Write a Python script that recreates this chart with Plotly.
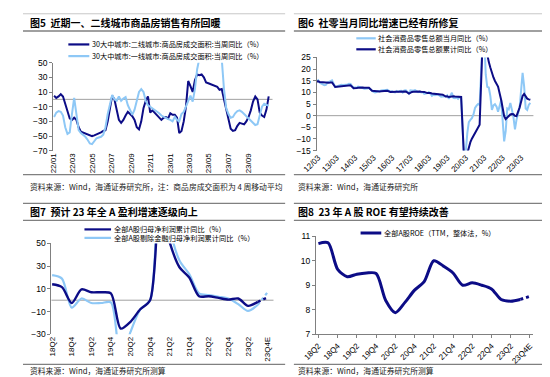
import plotly.graph_objects as go
import pandas as pd

W, H = 550, 377
def px(x): return x / W
def py(y): return 1 - y / H

NAVY = "#0c0c86"
LIGHT = "#8ec8f6"
GRAY = "#808080"
CJK = "Noto Sans CJK SC"
LAT = "Liberation Sans, Arial, Noto Sans CJK SC"

# ---------------- Panel 5 data (weekly) ----------------
weeks5 = pd.date_range("2022-01-02", periods=97, freq="7D")
tier2_yoy = [5, 2, 4, 7, 4, -6, -17, -26, -28, -25, -28, -38, -44, -45, -46, -48, -49, -50, -49, -48,
             -47, -45, -43, -42, -30, -10, 5, 0, -15, -28, -32, -28, -22, -17, -20, -23, -28, -38, -41, -30,
             -12, -2, 4, -18, -15, -18, -21, -25, -28, -25, -24, -26, -19, -21, -21, -25, -46, -43, -30, -10,
             25, 18, 10, 26, 34, 33, 34, 30, 23, 22, 21, 19, 18, 17, 13, 14, 0, -15, -30, -40,
             -43, -42, -36, -32, -33, -34, -30, -24, -15, -3, 4, 0, -18, -22, -24, -14, 4]
tier1_yoy = [-24, -18, -16, -17, -22, -38, -47, -45, -20, 2, -20, -42, -46, -48, -51, -55, -60, -61, -57, -53,
             -52, -51, -48, -38, -20, -8, 6, 0, -2, 4, -2, 1, 3, -8, -15, -21, -14, -2, 10, 14,
             10, -2, -8, -10, -12, -14, -17, -19, -22, -24, -26, -27, -28, -30, -24, -28, -30, -20, -17, -10,
             -3, 5, -3, 14, 41, 62, 80, 95, 100, 105, 100, 95, 90, 80, 70, 55, 14, -12, -20, -25,
             -24, -19, -16, -15, -17, -20, -24, -27, -30, -33, -35, -34, -20, -10, -6, -8, -9]
ticks5 = ["2022-01-01", "2022-03-01", "2022-05-01", "2022-07-01", "2022-09-01", "2022-11-01",
          "2023-01-01", "2023-03-01", "2023-05-01", "2023-07-01", "2023-09-01"]
ticktext5 = ["22/01", "22/03", "22/05", "22/07", "22/09", "22/11",
             "23/01", "23/03", "23/05", "23/07", "23/09"]

# ---------------- Panel 6 data (monthly, Jan merged into Feb) ----------------
retail_month = [
    14.7, 15.2, 14.1, 13.8, 13.7, 13.1, 13.2, 14.2, 14.5, 14.9, 15.2,
    12.3, 12.6, 12.8, 12.9, 13.3, 13.2, 13.4, 13.3, 13.3, 13.7, 13.6,
    11.8, 12.2, 11.9, 12.5, 12.4, 12.2, 11.9, 11.6, 11.5, 11.7, 11.9,
    10.7, 10.2, 10.0, 10.1, 10.6, 10.5, 10.8, 10.9, 11.0, 11.2, 11.1,
    10.2, 10.5, 10.1, 10.0, 10.6, 10.2, 10.6, 10.7, 10.0, 10.8, 10.9,
    9.5, 10.9, 10.7, 10.7, 11.0, 10.4, 10.1, 10.3, 10.0, 10.2, 9.4,
    9.7, 10.1, 9.4, 8.5, 9.0, 8.8, 9.0, 9.2, 8.6, 8.1, 8.2,
    8.2, 8.7, 7.2, 8.6, 9.8, 7.6, 7.5, 7.8, 7.2, 8.0, 8.0,
    -20.5, -15.8, -7.5, -2.8, -1.8, -1.1, 0.5, 3.3, 4.3, 5.0, 4.6,
    33.8, 34.2, 17.7, 12.4, 12.1, 8.5, 2.5, 4.4, 4.9, 3.9, 1.7,
    6.7, -3.5, -11.1, -6.7, 3.1, 2.7, 5.4, 2.5, -0.5, -5.9, -1.8,
    3.5, 10.6, 18.4, 12.7, 3.1, 2.5, 4.6, 5.5]
retail_cum = [
    14.7, 14.8, 14.5, 14.4, 14.4, 14.3, 14.1, 14.1, 14.1, 14.3, 14.3,
    12.3, 12.4, 12.5, 12.6, 12.7, 12.7, 12.8, 12.9, 12.9, 13.0, 13.1,
    11.8, 12.0, 11.9, 12.0, 12.1, 12.1, 12.1, 12.0, 12.0, 12.0, 12.0,
    10.7, 10.6, 10.4, 10.4, 10.4, 10.4, 10.5, 10.5, 10.6, 10.6, 10.7,
    10.2, 10.3, 10.3, 10.2, 10.3, 10.3, 10.3, 10.4, 10.3, 10.4, 10.4,
    9.5, 10.0, 10.2, 10.3, 10.4, 10.4, 10.4, 10.4, 10.3, 10.3, 10.2,
    9.7, 9.8, 9.7, 9.5, 9.4, 9.3, 9.3, 9.3, 9.2, 9.1, 9.0,
    8.2, 8.3, 8.0, 8.1, 8.4, 8.3, 8.2, 8.2, 8.1, 8.0, 8.0,
    -20.5, -19.0, -16.2, -13.5, -11.4, -9.9, -8.6, -7.2, -5.9, -4.8, -3.9,
    33.8, 33.9, 29.6, 25.7, 23.0, 20.7, 18.1, 16.4, 14.9, 13.7, 12.5,
    6.7, 3.3, -0.2, -1.5, -0.7, -0.2, 0.5, 0.7, 0.6, -0.1, -0.2,
    3.5, 5.8, 8.5, 9.3, 8.2, 7.3, 7.0, 6.8]
months6 = [f"{y}-{m:02d}-01" for y in range(2012, 2024) for m in range(2, 13)
           if (y, m) <= (2023, 9)]
ticks6 = [f"{y}-03-01" for y in range(2012, 2024)]
ticktext6 = [f"{y % 100:02d}/03" for y in range(2012, 2024)]

# ---------------- Panel 7 / 8 data (quarterly) ----------------
quarters = ["18Q2", "18Q3", "18Q4", "19Q1", "19Q2", "19Q3", "19Q4", "20Q1", "20Q2", "20Q3", "20Q4",
            "21Q1", "21Q2", "21Q3", "21Q4", "22Q1", "22Q2", "22Q3", "22Q4", "23Q1", "23Q2", "23Q3", "23Q4E"]
profit_all = [14, 11.5, -2.5, 9.5, 7, 7, 6, -25, -19, -8, 0,
              88, 51, 29, 20, 3.5, 3.5, 2, 0.5, 1.5, -5, -1.5, 2.5]
profit_exfin = [22, 19, -6.5, 1.5, -2.5, -2.5, -2, -55, -28, -8, 0,
                150, 65, 35, 23, 6, 4.5, 3, 1.5, -3.5, -9.5, -4, 7]
roe = [10.7, 10.73, 9.65, 9.35, 9.45, 9.5, 9.48, 8.38, 7.88, 8.3, 8.8,
       9.15, 10.0, 9.78, 9.5, 9.0, 9.1, 9.0, 8.85, 8.42, 8.35, 8.42, 8.55]
ticktext_q = quarters[::2]

idx = list(range(len(quarters)))
n_act = len(quarters) - 1  # last is estimate

fig = go.Figure()

# Panel 5
fig.add_trace(go.Scatter(x=weeks5, y=tier2_yoy, mode="lines", line=dict(color=NAVY, width=2),
                         xaxis="x", yaxis="y", showlegend=False))
fig.add_trace(go.Scatter(x=weeks5, y=tier1_yoy, mode="lines", line=dict(color=LIGHT, width=2),
                         xaxis="x", yaxis="y", showlegend=False))
# Panel 6
fig.add_trace(go.Scatter(x=months6, y=retail_month, mode="lines", line=dict(color=LIGHT, width=2),
                         xaxis="x2", yaxis="y2", showlegend=False))
fig.add_trace(go.Scatter(x=months6, y=retail_cum, mode="lines", line=dict(color=NAVY, width=2),
                         xaxis="x2", yaxis="y2", showlegend=False))
# Panel 7
fig.add_trace(go.Scatter(x=idx[:n_act], y=profit_exfin[:n_act], mode="lines",
                         line=dict(color=LIGHT, width=2.2, shape="spline", smoothing=0.8),
                         xaxis="x3", yaxis="y3", showlegend=False))
fig.add_trace(go.Scatter(x=idx[n_act - 1:], y=profit_exfin[n_act - 1:], mode="lines",
                         line=dict(color=LIGHT, width=2.2, dash="dot"),
                         xaxis="x3", yaxis="y3", showlegend=False))
fig.add_trace(go.Scatter(x=idx[:n_act], y=profit_all[:n_act], mode="lines",
                         line=dict(color=NAVY, width=2.4, shape="spline", smoothing=0.8),
                         xaxis="x3", yaxis="y3", showlegend=False))
fig.add_trace(go.Scatter(x=idx[n_act - 1:], y=profit_all[n_act - 1:], mode="lines",
                         line=dict(color=NAVY, width=2.4, dash="dot"),
                         xaxis="x3", yaxis="y3", showlegend=False))
# Panel 8
fig.add_trace(go.Scatter(x=idx[:n_act], y=roe[:n_act], mode="lines",
                         line=dict(color=NAVY, width=3, shape="spline", smoothing=0.8),
                         xaxis="x4", yaxis="y4", showlegend=False))
fig.add_trace(go.Scatter(x=idx[n_act - 1:], y=roe[n_act - 1:], mode="lines",
                         line=dict(color=NAVY, width=3, dash="dot"),
                         xaxis="x4", yaxis="y4", showlegend=False))

tickfont = dict(family=LAT, size=8.5, color="#000")
xtickfont = dict(family=LAT, size=8, color="#000")

def yax(domain, rng, dtick, anchor):
    return dict(domain=domain, range=rng, tick0=rng[0], dtick=dtick, tickmode="linear",
                anchor=anchor, showgrid=False,
                showline=True, linecolor=GRAY, linewidth=1, ticks="outside", ticklen=3,
                tickcolor=GRAY, tickfont=tickfont, zeroline=False, fixedrange=True)

fig.update_layout(
    width=W, height=H, margin=dict(l=0, r=0, t=0, b=0),
    paper_bgcolor="white", plot_bgcolor="white", showlegend=False,
    xaxis=dict(domain=[px(31), px(257)], type="date", range=["2021-12-30", "2023-11-17"],
               tickvals=ticks5, ticktext=ticktext5, tickangle=-90, showgrid=False, showline=False,
               ticks="", tickfont=xtickfont, anchor="y", zeroline=False),
    yaxis=yax([py(141.5), py(51)], [-70, 50], 20, "x"),
    xaxis2=dict(domain=[px(302.3), px(525.7)], type="date", range=["2012-01-28", "2023-11-01"],
                tickvals=ticks6, ticktext=ticktext6, tickangle=-45, showgrid=False, showline=False,
                ticks="", tickfont=xtickfont, anchor="y2", zeroline=False),
    yaxis2=yax([py(141.3), py(45.7)], [-15, 25], 5, "x2"),
    xaxis3=dict(domain=[px(29.3), px(258)], range=[-0.07, 22.6], tickvals=idx[::2],
                ticktext=ticktext_q, tickangle=-90, showgrid=False, showline=False, ticks="",
                tickfont=xtickfont, anchor="y3", zeroline=False),
    yaxis3=yax([py(330), py(236.7)], [-30, 50], 20, "x3"),
    xaxis4=dict(domain=[px(301.7), px(525.7)], range=[-0.26, 22.36], tickvals=idx[::2],
                ticktext=ticktext_q, tickangle=-45, showgrid=False, showline=True, linecolor=GRAY,
                ticks="outside", ticklen=3, tickcolor=GRAY, tickfont=xtickfont, anchor="y4",
                zeroline=False),
    yaxis4=dict(domain=[py(330), py(229.3)], range=[7, 11], tick0=7, dtick=1, tickmode="linear",
                anchor="x4", showgrid=False,
                showline=True, linecolor=GRAY, ticks="outside", ticklen=3, tickcolor=GRAY,
                tickfont=tickfont, zeroline=False),
)

shapes = []
annotations = []

# zero lines of panels 5, 6, 7 (drawn beneath the data)
for xa, ya in [("x", "y"), ("x2", "y2"), ("x3", "y3")]:
    shapes.append(dict(type="line", xref=f"{xa} domain", yref=ya, x0=0, x1=1, y0=0, y1=0,
                       layer="below", line=dict(color="#a0a0a0", width=1)))

def hline(y, x0, x1, color=GRAY, width=1.3):
    shapes.append(dict(type="line", xref="paper", yref="paper", x0=px(x0), x1=px(x1),
                       y0=py(y), y1=py(y), line=dict(color=color, width=width)))

for (a, b) in [(0, 270), (279, 550)]:
    hline(0.8, a, b, color="#c8c8c8", width=1)
    for y in [18.5, 166, 195.5, 213, 361]:
        hline(y, a, b)

def text(x, y, s, size=8, bold=False, color="#000", family=CJK):
    annotations.append(dict(xref="paper", yref="paper", x=px(x), y=py(y), text=f"<b>{s}</b>" if bold else s,
                            showarrow=False, xanchor="left", yanchor="middle",
                            font=dict(family=family, size=size, color=color)))

def legend_item(x0, x1, y, color, label, width=2.2):
    shapes.append(dict(type="line", xref="paper", yref="paper", x0=px(x0), x1=px(x1),
                       y0=py(y), y1=py(y), line=dict(color=color, width=width)))
    text(x1 + 0.5, y, label, size=7.2)

# Titles
text(5, 10, "图5  近期一、二线城市商品房销售有所回暖", size=10, bold=True)
text(281, 10, "图6  社零当月同比增速已经有所修复", size=10, bold=True)
text(5, 204, "图7  预计 23 年全 A 盈利增速逐级向上", size=10, bold=True)
text(281, 204, "图8  23 年 A 股 ROE 有望持续改善", size=10, bold=True)

# Sources
text(5, 178, "资料来源：Wind，海通证券研究所，注：商品房成交面积为 4 周移动平均", size=7.8, color="#222")
text(281, 178, "资料来源：Wind，海通证券研究所", size=7.8, color="#222")
text(5, 367, "资料来源：Wind，海通证券研究所测算", size=7.8, color="#222")
text(281, 367, "资料来源：Wind，海通证券研究所测算", size=7.8, color="#222")

# Legends
legend_item(46.7, 68.3, 32.3, NAVY, "30大中城市:二线城市:商品房成交面积:当周同比（%）")
legend_item(46.7, 68.3, 44.3, LIGHT, "30大中城市:一线城市:商品房成交面积:当周同比（%）")
legend_item(343.3, 363.3, 26, LIGHT, "社会消费品零售总额当月同比（%）")
legend_item(343.3, 363.3, 37.3, NAVY, "社会消费品零售总额累计同比（%）")
legend_item(63.3, 90.7, 222.3, NAVY, "全部A股归母净利润累计同比（%）")
legend_item(63.3, 90.7, 231, LIGHT, "全部A股剔除金融归母净利润累计同比（%）")
legend_item(347.7, 369, 226, NAVY, "全部A股ROE（TTM，整体法，%）", width=3)

fig.update_layout(shapes=shapes, annotations=annotations)
fig.write_html("out.html")
